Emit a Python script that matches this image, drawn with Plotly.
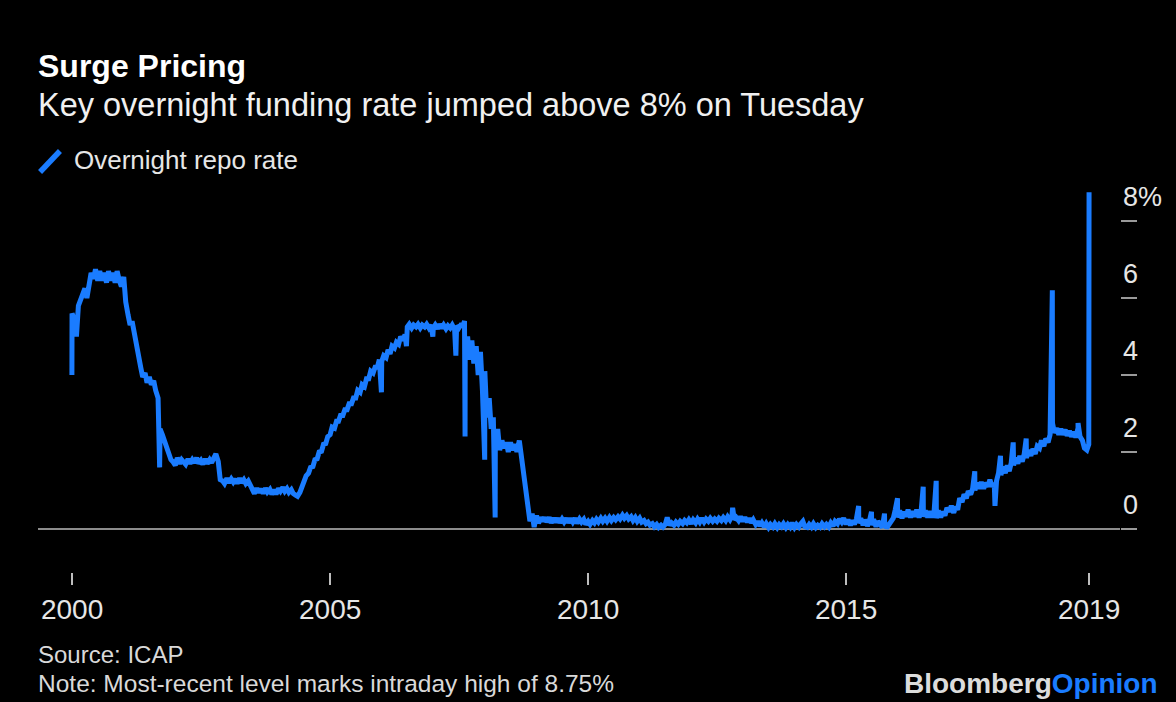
import pandas as pd
import plotly.graph_objects as go

# Overnight repo rate (%), sampled on the 1st and 15th of each month
rate_2000 = [5.6, 5.45, 5.0, 5.8, 5.95, 6.15, 6.25, 6.0, 6.35, 6.65, 6.5, 6.75,
             6.45, 6.7, 6.45, 6.65, 6.4, 6.7, 6.45, 6.65, 6.4, 6.7, 6.45, 6.3]
rate_2001 = [6.55, 5.9, 5.55, 5.3, 5.4, 5.1, 4.85, 4.4, 4.2, 3.95, 4.05, 3.8,
             3.95, 3.75, 3.85, 3.6, 3.4, 2.6, 2.45, 2.3, 2.1, 1.95, 1.8, 1.75]
rate_2002 = [1.65, 1.85, 1.7, 1.8, 1.72, 1.68, 1.82, 1.7, 1.8, 1.72, 1.85, 1.7,
             1.78, 1.68, 1.82, 1.7, 1.8, 1.72, 1.85, 1.95, 1.75, 1.28, 1.25, 1.18]
rate_2003 = [1.32, 1.2, 1.3, 1.22, 1.3, 1.18, 1.32, 1.2, 1.28, 1.18, 1.25, 1.12,
             1.02, 0.92, 1.06, 0.95, 1.04, 0.92, 1.06, 0.96, 1.03, 0.9, 1.02, 0.9]
rate_2004 = [1.05, 0.98, 1.08, 0.98, 1.05, 0.95, 1.02, 0.92, 0.88, 0.85, 0.95, 1.1,
             1.28, 1.38, 1.45, 1.6, 1.62, 1.8, 1.82, 2.0, 2.02, 2.2, 2.22, 2.4]
rate_2005 = [2.45, 2.65, 2.62, 2.8, 2.8, 2.95, 2.95, 3.1, 3.1, 3.25, 3.25, 3.4,
             3.4, 3.6, 3.55, 3.75, 3.7, 3.9, 3.9, 4.1, 4.05, 4.2, 4.2, 4.4]
rate_2006 = [4.35, 4.5, 4.45, 4.65, 4.55, 4.75, 4.7, 4.85, 4.8, 5.0, 4.9, 5.05,
             5.25, 5.32, 5.22, 5.3, 5.25, 5.32, 5.22, 5.3, 5.25, 5.32, 5.22, 5.3]
rate_2007 = [5.22, 5.3, 5.2, 5.32, 5.22, 5.3, 5.2, 5.28, 5.22, 5.3, 5.18, 5.28,
             5.22, 5.3, 5.3, 4.6, 5.0, 4.4, 4.9, 4.3, 4.75, 4.0, 4.6, 3.6]
rate_2008 = [4.1, 2.9, 3.4, 2.6, 2.9, 2.2, 2.6, 2.05, 2.3, 2.1, 2.25, 2.0,
             2.25, 2.05, 2.2, 2.0, 2.3, 1.9, 1.3, 0.9, 0.55, 0.2, 0.4, 0.05]
rate_2009 = [0.35, 0.15, 0.3, 0.2, 0.3, 0.18, 0.3, 0.16, 0.28, 0.18, 0.28, 0.16,
             0.26, 0.18, 0.28, 0.16, 0.27, 0.18, 0.28, 0.15, 0.26, 0.18, 0.25, 0.12]
rate_2010 = [0.2, 0.12, 0.22, 0.16, 0.25, 0.18, 0.28, 0.2, 0.28, 0.2, 0.3, 0.22,
             0.3, 0.24, 0.32, 0.26, 0.36, 0.28, 0.35, 0.26, 0.32, 0.22, 0.3, 0.2]
rate_2011 = [0.28, 0.18, 0.22, 0.14, 0.18, 0.1, 0.14, 0.06, 0.12, 0.04, 0.1, 0.05,
             0.12, 0.3, 0.1, 0.16, 0.1, 0.18, 0.12, 0.2, 0.14, 0.22, 0.16, 0.24]
rate_2012 = [0.14, 0.24, 0.16, 0.26, 0.18, 0.28, 0.18, 0.26, 0.2, 0.28, 0.2, 0.26,
             0.2, 0.28, 0.22, 0.3, 0.22, 0.32, 0.24, 0.34, 0.24, 0.3, 0.22, 0.32]
rate_2013 = [0.2, 0.3, 0.18, 0.28, 0.16, 0.24, 0.12, 0.2, 0.08, 0.16, 0.05, 0.14,
             0.04, 0.12, 0.05, 0.14, 0.04, 0.12, 0.06, 0.14, 0.04, 0.12, 0.05, 0.16]
rate_2014 = [0.04, 0.12, 0.05, 0.14, 0.2, 0.06, 0.04, 0.12, 0.05, 0.14, 0.04, 0.1,
             0.05, 0.14, 0.06, 0.12, 0.05, 0.16, 0.08, 0.2, 0.14, 0.26, 0.18, 0.28]
rate_2015 = [0.12, 0.24, 0.1, 0.22, 0.12, 0.26, 0.15, 0.28, 0.1, 0.24, 0.08, 0.2,
             0.1, 0.25, 0.06, 0.2, 0.1, 0.04, 0.18, 0.02, 0.12, 0.2, 0.28, 0.5]
rate_2016 = [0.3, 0.48, 0.28, 0.45, 0.32, 0.5, 0.3, 0.46, 0.32, 0.5, 0.3, 0.45,
             0.32, 0.48, 0.3, 0.46, 0.3, 0.45, 0.28, 0.48, 0.3, 0.45, 0.35, 0.55]
rate_2017 = [0.45, 0.6, 0.42, 0.58, 0.5, 0.8, 0.7, 0.9, 0.8, 0.98, 0.9, 1.05,
             1.0, 1.2, 1.05, 1.22, 1.05, 1.2, 1.1, 1.28, 1.1, 1.2, 1.25, 1.45]
rate_2018 = [1.4, 1.62, 1.45, 1.65, 1.5, 1.72, 1.65, 1.85, 1.7, 1.9, 1.75, 1.95,
             1.85, 2.05, 1.9, 2.08, 1.95, 2.15, 2.1, 2.3, 2.15, 2.35, 2.25, 2.45]
rate_2019 = [2.75, 2.5, 2.62, 2.45, 2.6, 2.45, 2.58, 2.42, 2.55, 2.4, 2.52, 2.38,
             2.62, 2.4, 2.3, 2.1, 2.05, 2.2]

# Single-day moves (year-end, quarter-end and stress days)
spike_dates = ["1999-12-31", "2001-09-12", "2005-12-30", "2006-06-25",
               "2006-12-29", "2007-06-10", "2007-08-10", "2007-08-14",
               "2007-12-31", "2008-03-14", "2012-10-20", "2015-03-31",
               "2015-06-30", "2015-09-30", "2015-12-31", "2016-06-30",
               "2016-09-30", "2017-06-30", "2017-11-20", "2017-12-29",
               "2018-03-29", "2018-06-29", "2018-12-31", "2019-07-01",
               "2019-09-17"]
spike_values = [4.0, 1.6, 3.55, 4.75,
                5.0, 4.5, 5.4, 2.4,
                1.8, 0.3, 0.55, 0.6,
                0.45, 0.4, 0.8, 1.1,
                1.25, 1.5, 0.6, 1.9,
                2.25, 2.35, 6.2, 2.75,
                8.75]

# Axis labels
x_tick_dates = ["2000-01-01", "2005-01-01", "2010-01-01", "2015-01-01", "2019-09-17"]
x_tick_text = ["2000", "2005", "2010", "2015", "2019"]
y_tick_vals = [0, 2, 4, 6, 8]
y_tick_text = ["0", "2", "4", "6", "8%"]

yearly = [rate_2000, rate_2001, rate_2002, rate_2003, rate_2004, rate_2005,
          rate_2006, rate_2007, rate_2008, rate_2009, rate_2010, rate_2011,
          rate_2012, rate_2013, rate_2014, rate_2015, rate_2016, rate_2017,
          rate_2018, rate_2019]
base_values = [v for year in yearly for v in year]
base_dates = pd.date_range("2000-01-01", periods=len(base_values), freq="SMS")

series = pd.concat([
    pd.Series(base_values, index=base_dates),
    pd.Series(spike_values, index=pd.to_datetime(spike_dates)),
]).sort_index()

BLUE = "#1a7cff"
FONT = "Liberation Sans, Arial, Helvetica, sans-serif"

fig = go.Figure()
fig.add_trace(go.Scatter(
    x=series.index, y=series.values, mode="lines",
    line=dict(color=BLUE, width=5),
    showlegend=False, hoverinfo="skip",
))

fig.update_layout(
    width=1176, height=702,
    paper_bgcolor="#000000", plot_bgcolor="#000000",
    margin=dict(l=38, r=56, t=180, b=130),
    font=dict(family=FONT, color="#e6e6e6"),
    showlegend=False,
)

fig.update_xaxes(
    type="date",
    range=["1999-05-05", "2020-04-23"],
    tickvals=x_tick_dates, ticktext=x_tick_text,
    ticks="outside", ticklen=12, tickwidth=1.5, tickcolor="#bdbdbd",
    tickfont=dict(size=28, color="#e6e6e6"),
    showgrid=False, showline=False, zeroline=False,
    automargin=False,
)

# Right-hand value axis: tick marks from the axis, labels sit above each mark
fig.update_yaxes(
    side="right",
    range=[-1.117, 9.065],
    tickvals=y_tick_vals,
    ticks="outside", ticklen=16, tickwidth=2, tickcolor="#9a9a9a",
    showticklabels=False,
    showgrid=False, showline=False,
    zeroline=True, zerolinecolor="#8c8c8c", zerolinewidth=2,
    automargin=False,
)
for val, label in zip(y_tick_vals, y_tick_text):
    fig.add_annotation(
        text=label, xref="paper", yref="y", x=1, y=val,
        xanchor="left", yanchor="middle", xshift=1, yshift=24,
        showarrow=False, font=dict(family=FONT, size=27, color="#e6e6e6"),
    )

# Legend swatch
fig.add_shape(type="line", xref="paper", yref="paper",
              x0=0.0019, y0=1.0204, x1=0.0203, y1=1.074,
              line=dict(color=BLUE, width=5.5))

annotations = [
    dict(text="<b>Surge Pricing</b>", x=-0.002, y=1.291, size=32, color="#ffffff"),
    dict(text="Key overnight funding rate jumped above 8% on Tuesday",
         x=-0.002, y=1.191, size=32.5, color="#f0f0f0"),
    dict(text="Overnight repo rate", x=0.0314, y=1.051, size=26, color="#e6e6e6"),
    dict(text="Source: ICAP", x=-0.002, y=-0.2117, size=24, color="#d9d9d9"),
    dict(text="Note: Most-recent level marks intraday high of 8.75%",
         x=-0.002, y=-0.2857, size=24.5, color="#d9d9d9"),
]
for a in annotations:
    fig.add_annotation(
        text=a["text"], xref="paper", yref="paper", x=a["x"], y=a["y"],
        xanchor="left", yanchor="middle", showarrow=False,
        font=dict(family=FONT, size=a["size"], color=a["color"]),
    )

fig.add_annotation(
    text="<b><span style='color:#dcdcdc'>Bloomberg</span>"
         "<span style='color:" + BLUE + "'>Opinion</span></b>",
    xref="paper", yref="paper", x=1.037, y=-0.2857,
    xanchor="right", yanchor="middle", showarrow=False,
    font=dict(family=FONT, size=28),
)

fig.write_html("out.html")
